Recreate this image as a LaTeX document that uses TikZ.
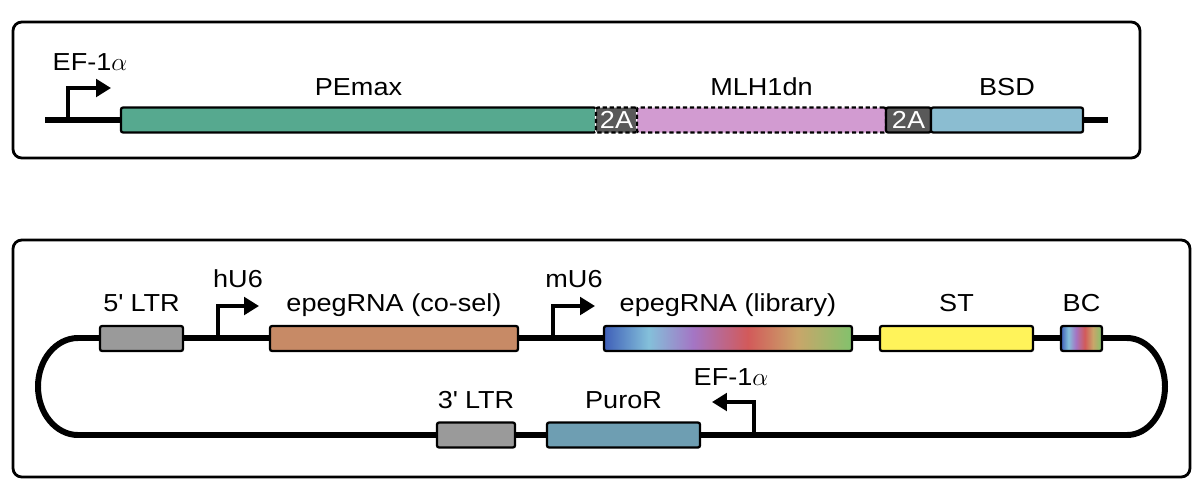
\documentclass[tikz,border=0pt]{standalone}
\usepackage{fontspec}
\setmainfont[FakeStretch=1.1]{Liberation Sans}
\usetikzlibrary{arrows.meta,positioning}
\definecolor{pemaxgreen}{HTML}{56A98F}
\definecolor{mlhpink}{HTML}{D29BD1}
\definecolor{bsdblue}{HTML}{8BBDD1}
\definecolor{twoagray}{HTML}{595959}
\definecolor{ltrgray}{HTML}{9A9A9A}
\definecolor{coselbrown}{HTML}{C78A66}
\definecolor{styellow}{HTML}{FFF35A}
\definecolor{purogray}{HTML}{6E9EB2}
\definecolor{libA}{HTML}{3F5FB8}
\definecolor{libB}{HTML}{84C0DA}
\definecolor{libC}{HTML}{A475C4}
\definecolor{libD}{HTML}{D25A5A}
\definecolor{libE}{HTML}{C9A66A}
\definecolor{libF}{HTML}{82C26C}
\pgfdeclarehorizontalshading{libshade}{100bp}{color(0bp)=(libA); color(25bp)=(libA); color(34bp)=(libB); color(43bp)=(libC); color(54bp)=(libD); color(64bp)=(libE); color(75bp)=(libF); color(100bp)=(libF)}
\newcommand{\pxu}{0.02cm}
\tikzset{
  part/.style={draw, line width=1.3pt, rounded corners=1.2pt, minimum height=25*\pxu, inner sep=0pt},
  dashpart/.style={part, preaction={draw=white, solid}, dash pattern=on 2.4pt off 1.6pt},
  lbl/.style={font=\fontsize{14}{16}\selectfont, inner sep=0pt, anchor=base},
  backbone/.style={line width=3.4pt},
  prom/.style={line width=1.9pt, -{Triangle[length=8.5pt, width=10pt]}},
  frame/.style={line width=1.6pt, rounded corners=5pt},
}
\begin{document}
\begin{tikzpicture}[x=0.02cm, y=-0.02cm]
    \useasboundingbox (0,0) rectangle (1200,495);
    % Top construct
    \draw[frame] (13,22) rectangle (1140,158);
    \coordinate (topstart) at (45,120);
    \coordinate (topend) at (1108,120);
    \draw[backbone] (topstart) -- (topend);
    \coordinate (efstem) at (68,120);
    \coordinate (eftip) at (111,88);
    \draw[prom] (efstem) |- (eftip);
    \node[lbl] (eflbl) at (90,70) {EF-1$\alpha$};
    \node[part, fill=pemaxgreen, minimum width=475*\pxu] (pemax) at (358.5,120) {};
    \node[dashpart, fill=twoagray, text=white, font=\fontsize{14}{16}\selectfont, minimum width=41*\pxu] (twoa1) at (616.5,120) {2A};
    \node[dashpart, fill=mlhpink, minimum width=249*\pxu] (mlh) at (761.5,120) {};
    \node[part, fill=twoagray, text=white, font=\fontsize{14}{16}\selectfont, minimum width=45*\pxu] (twoa2) at (908.5,120) {2A};
    \node[part, fill=bsdblue, minimum width=152*\pxu] (bsd) at (1007,120) {};
    \node[lbl, above=0.22cm of pemax, anchor=base] (pemaxlbl) {PEmax};
    \node[lbl, above=0.22cm of mlh, anchor=base] (mlhlbl) {MLH1dn};
    \node[lbl, above=0.22cm of bsd, anchor=base] (bsdlbl) {BSD};
    % Bottom construct
    \draw[frame] (13,240) rectangle (1190,477);
    \coordinate (looptl) at (78,338);
    \coordinate (looptr) at (1127,338);
    \coordinate (loopbr) at (1127,435);
    \coordinate (loopbl) at (78,435);
    \draw[backbone] (looptl) -- (looptr)
        arc[start angle=-90, end angle=90, x radius=38, y radius=48.5]
        -- (loopbl)
        arc[start angle=90, end angle=270, x radius=40, y radius=48.5] -- cycle;
    % Upper strand
    \node[part, fill=ltrgray, minimum width=83*\pxu] (ltrfive) at (141.5,338.5) {};
    \node[part, fill=coselbrown, minimum width=248*\pxu] (cosel) at (394,338.5) {};
    \node[part, shading=libshade, minimum width=248*\pxu] (library) at (728,338.5) {};
    \node[part, fill=styellow, minimum width=153*\pxu] (st) at (956.5,338.5) {};
    \node[part, shading=libshade, minimum width=41*\pxu] (bc) at (1081.5,338.5) {};
    \coordinate (hustem) at (218,338);
    \coordinate (hutip) at (259,306);
    \draw[prom] (hustem) |- (hutip);
    \coordinate (mustem) at (553,338);
    \coordinate (mutip) at (595,306);
    \draw[prom] (mustem) |- (mutip);
    \node[lbl] (hulbl) at (238,287) {hU6};
    \node[lbl] (mulbl) at (574,287) {mU6};
    \node[lbl, above=0.26cm of ltrfive, anchor=base] (ltrfivelbl) {5\textquotesingle{} LTR};
    \node[lbl, above=0.26cm of cosel, anchor=base] (csellbl) {epegRNA (co-sel)};
    \node[lbl, above=0.26cm of library, anchor=base] (liblbl) {epegRNA (library)};
    \node[lbl, above=0.26cm of st, anchor=base] (stlbl) {ST};
    \node[lbl, above=0.26cm of bc, anchor=base] (bclbl) {BC};
    % Lower strand
    \node[part, fill=ltrgray, minimum width=78*\pxu] (ltrthree) at (476,435) {};
    \node[part, fill=purogray, minimum width=153*\pxu] (puro) at (623.5,435) {};
    \coordinate (efbstem) at (754,435);
    \coordinate (efbtip) at (712,402);
    \draw[prom] (efbstem) |- (efbtip);
    \node[lbl] (efblbl) at (731,385) {EF-1$\alpha$};
    \node[lbl, above=0.26cm of ltrthree, anchor=base] (ltrthreelbl) {3\textquotesingle{} LTR};
    \node[lbl, above=0.26cm of puro, anchor=base] (purolbl) {PuroR};
\end{tikzpicture}
\end{document}
